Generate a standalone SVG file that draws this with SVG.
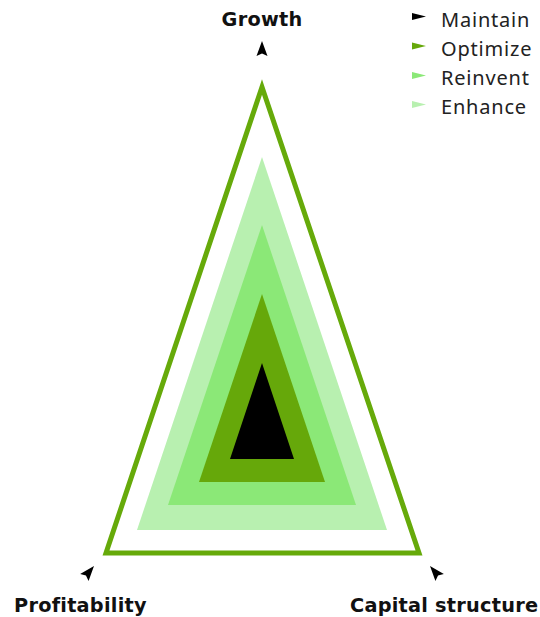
<svg xmlns="http://www.w3.org/2000/svg" width="540" height="617" viewBox="0 0 540 617">
<style>
.axis{font-family:"DejaVu Sans",sans-serif;font-weight:bold;font-size:19.3px;letter-spacing:0.25px;fill:#111}
.leg{font-family:"Noto Sans",sans-serif;font-size:20px;letter-spacing:0.8px;fill:#222}
.arrow{fill:#000}
</style>
<defs>
<path id="ah" d="M0,0 L5.5,15 L0,12.5 L-5.5,15 Z"/>
<path id="lm" d="M0,-3.5 L14,0 L0,3.5 Z"/>
</defs>
<rect width="540" height="617" fill="#fff"/>
<g id="outer">
<polygon points="262,87 106,553 419,553" fill="none" stroke="#66aa0a" stroke-width="5"/>
</g>
<g id="enhance"><polygon points="262,157 137,530 387,530" fill="#b8f0b0"/></g>
<g id="reinvent"><polygon points="262,225 168,505 356,505" fill="#8be877"/></g>
<g id="optimize"><polygon points="262,294 199,482 325,482" fill="#66a80a"/></g>
<g id="maintain"><polygon points="262,363 230,459 294,459" fill="#000"/></g>
<g id="connectors">
<use href="#ah" class="arrow" transform="translate(262,41)"/>
<use href="#ah" class="arrow" transform="translate(94,566) rotate(40)"/>
<use href="#ah" class="arrow" transform="translate(430,566) rotate(-40)"/>
</g>
<g id="labels">
<text class="axis" x="262" y="26" text-anchor="middle">Growth</text>
<text class="axis" x="14" y="612">Profitability</text>
<text class="axis" x="350" y="612">Capital structure</text>
</g>
<g id="legend">
<use href="#lm" transform="translate(412,16.5)" fill="#000"/>
<use href="#lm" transform="translate(412,46)" fill="#66a80a"/>
<use href="#lm" transform="translate(412,75.5)" fill="#8be877"/>
<use href="#lm" transform="translate(412,104.5)" fill="#b8f0b0"/>
<text class="leg" x="441" y="26.5">Maintain</text>
<text class="leg" x="441" y="55.5">Optimize</text>
<text class="leg" x="441" y="84.5">Reinvent</text>
<text class="leg" x="441" y="113.5">Enhance</text>
</g>
</svg>
